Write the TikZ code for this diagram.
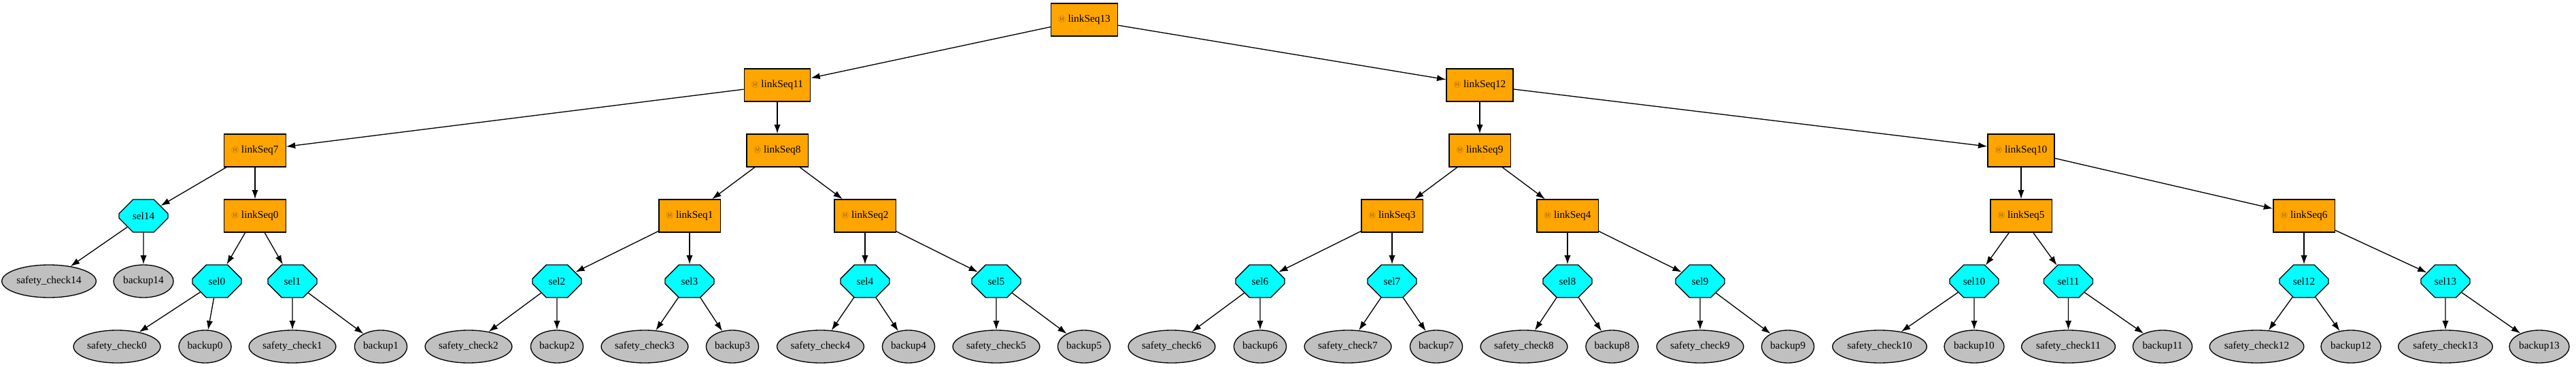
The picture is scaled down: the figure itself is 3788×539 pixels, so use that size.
\documentclass[tikz,border=0pt]{standalone}
\usepackage{fontspec}
\setmainfont{Liberation Serif}
\newfontfamily\msymfont{Noto Sans CJK JP}
\usetikzlibrary{shapes.geometric,shapes.misc,arrows.meta}

\definecolor{seqorange}{HTML}{FFA500}
\definecolor{selcyan}{HTML}{00FFFF}
\definecolor{leafgray}{HTML}{C0C0C0}
\definecolor{msymcolor}{HTML}{A0640A}

\newcommand{\mtag}{{\msymfont\fontsize{8}{8}\selectfont\textcolor{msymcolor}{Ⓜ}}}

\tikzset{   seqbox/.style={draw=black,rectangle,fill=seqorange,minimum height=36pt,inner xsep=8pt,line width=1pt,font=\fontsize{11.5}{13}\selectfont},
            selbox/.style={draw=black,chamfered rectangle,chamfered rectangle xsep=15.8pt,chamfered rectangle ysep=10.5pt,fill=selcyan,minimum width=54pt,minimum height=36pt,inner sep=1pt,line width=1pt,font=\fontsize{11.5}{13}\selectfont},
            leafnode/.style={draw=black,ellipse,fill=leafgray,minimum height=36pt,inner xsep=1pt,line width=1pt,font=\fontsize{11.5}{13}\selectfont},
            linkarrow/.style={-{Latex[length=10pt,width=7pt]},line width=1pt},
}

\begin{document}
\begin{tikzpicture}[x=0.75pt,y=-0.75pt]
    \useasboundingbox (0,0) rectangle (3788,539);

    \node[seqbox] (linkSeq13) at (1594.5,29) {\mtag{} linkSeq13}; % top sequence
    \node[seqbox] (linkSeq11) at (1143,125) {\mtag{} linkSeq11};
    \node[seqbox] (linkSeq12) at (2176,125) {\mtag{} linkSeq12};

    \node[seqbox] (linkSeq7) at (375,221) {\mtag{} linkSeq7};
    \node[seqbox] (linkSeq8) at (1143,221) {\mtag{} linkSeq8};
    \node[seqbox] (linkSeq9) at (2176,221) {\mtag{} linkSeq9};
    \node[seqbox] (linkSeq10) at (2972,221) {\mtag{} linkSeq10};

    \node[selbox] (sel14) at (211,317) {sel14};
    \node[seqbox] (linkSeq0) at (375,317) {\mtag{} linkSeq0};
    \node[seqbox] (linkSeq1) at (1014,317) {\mtag{} linkSeq1};
    \node[seqbox] (linkSeq2) at (1272,317) {\mtag{} linkSeq2};
    \node[seqbox] (linkSeq3) at (2047,317) {\mtag{} linkSeq3};
    \node[seqbox] (linkSeq4) at (2305,317) {\mtag{} linkSeq4};
    \node[seqbox] (linkSeq5) at (2972,317) {\mtag{} linkSeq5};
    \node[seqbox] (linkSeq6) at (3388,317) {\mtag{} linkSeq6};

    \node[leafnode] (safety_check14) at (72,413) {safety\_check14}; % selectors
    \node[leafnode] (backup14) at (211,413) {backup14};
    \node[selbox] (sel0) at (319,413) {sel0};
    \node[selbox] (sel1) at (430,413) {sel1};
    \node[selbox] (sel2) at (819,413) {sel2};
    \node[selbox] (sel3) at (1014,413) {sel3};
    \node[selbox] (sel4) at (1272,413) {sel4};
    \node[selbox] (sel5) at (1465,413) {sel5};
    \node[selbox] (sel6) at (1853,413) {sel6};
    \node[selbox] (sel7) at (2047,413) {sel7};
    \node[selbox] (sel8) at (2305,413) {sel8};
    \node[selbox] (sel9) at (2500,413) {sel9};
    \node[selbox] (sel10) at (2903,413) {sel10};
    \node[selbox] (sel11) at (3041.5,413) {sel11};
    \node[selbox] (sel12) at (3388,413) {sel12};
    \node[selbox] (sel13) at (3596,413) {sel13};

    \node[leafnode] (safety_check0) at (172,509) {safety\_check0}; % leaves
    \node[leafnode] (backup0) at (301.5,509) {backup0};
    \node[leafnode] (safety_check1) at (430,509) {safety\_check1};
    \node[leafnode] (backup1) at (560,509) {backup1};
    \node[leafnode] (safety_check2) at (689,509) {safety\_check2};
    \node[leafnode] (backup2) at (819,509) {backup2};
    \node[leafnode] (safety_check3) at (948,509) {safety\_check3};
    \node[leafnode] (backup3) at (1077,509) {backup3};
    \node[leafnode] (safety_check4) at (1206.5,509) {safety\_check4};
    \node[leafnode] (backup4) at (1336,509) {backup4};
    \node[leafnode] (safety_check5) at (1465,509) {safety\_check5};
    \node[leafnode] (backup5) at (1594,509) {backup5};
    \node[leafnode] (safety_check6) at (1723,509) {safety\_check6};
    \node[leafnode] (backup6) at (1853,509) {backup6};
    \node[leafnode] (safety_check7) at (1982,509) {safety\_check7};
    \node[leafnode] (backup7) at (2112,509) {backup7};
    \node[leafnode] (safety_check8) at (2241,509) {safety\_check8};
    \node[leafnode] (backup8) at (2370.5,509) {backup8};
    \node[leafnode] (safety_check9) at (2500,509) {safety\_check9};
    \node[leafnode] (backup9) at (2629,509) {backup9};
    \node[leafnode] (safety_check10) at (2764,509) {safety\_check10};
    \node[leafnode] (backup10) at (2903,509) {backup10};
    \node[leafnode] (safety_check11) at (3041.5,509) {safety\_check11};
    \node[leafnode] (backup11) at (3180,509) {backup11};
    \node[leafnode] (safety_check12) at (3318.5,509) {safety\_check12};
    \node[leafnode] (backup12) at (3457,509) {backup12};
    \node[leafnode] (safety_check13) at (3596,509) {safety\_check13};
    \node[leafnode] (backup13) at (3734,509) {backup13};

    \draw[linkarrow] (linkSeq13) -- (linkSeq11); % sequence edges
    \draw[linkarrow] (linkSeq13) -- (linkSeq12);
    \draw[linkarrow] (linkSeq11) -- (linkSeq7);
    \draw[linkarrow] (linkSeq11) -- (linkSeq8);
    \draw[linkarrow] (linkSeq12) -- (linkSeq9);
    \draw[linkarrow] (linkSeq12) -- (linkSeq10);
    \draw[linkarrow] (linkSeq7) -- (sel14);
    \draw[linkarrow] (linkSeq7) -- (linkSeq0);
    \draw[linkarrow] (linkSeq8) -- (linkSeq1);
    \draw[linkarrow] (linkSeq8) -- (linkSeq2);
    \draw[linkarrow] (linkSeq9) -- (linkSeq3);
    \draw[linkarrow] (linkSeq9) -- (linkSeq4);
    \draw[linkarrow] (linkSeq10) -- (linkSeq5);
    \draw[linkarrow] (linkSeq10) -- (linkSeq6);
    \draw[linkarrow] (linkSeq0) -- (sel0);
    \draw[linkarrow] (linkSeq0) -- (sel1);
    \draw[linkarrow] (linkSeq1) -- (sel2);
    \draw[linkarrow] (linkSeq1) -- (sel3);
    \draw[linkarrow] (linkSeq2) -- (sel4);
    \draw[linkarrow] (linkSeq2) -- (sel5);
    \draw[linkarrow] (linkSeq3) -- (sel6);
    \draw[linkarrow] (linkSeq3) -- (sel7);
    \draw[linkarrow] (linkSeq4) -- (sel8);
    \draw[linkarrow] (linkSeq4) -- (sel9);
    \draw[linkarrow] (linkSeq5) -- (sel10);
    \draw[linkarrow] (linkSeq5) -- (sel11);
    \draw[linkarrow] (linkSeq6) -- (sel12);
    \draw[linkarrow] (linkSeq6) -- (sel13);

    \draw[linkarrow] (sel14) -- (safety_check14); % selector edges
    \draw[linkarrow] (sel14) -- (backup14);
    \draw[linkarrow] (sel0) -- (safety_check0);
    \draw[linkarrow] (sel0) -- (backup0);
    \draw[linkarrow] (sel1) -- (safety_check1);
    \draw[linkarrow] (sel1) -- (backup1);
    \draw[linkarrow] (sel2) -- (safety_check2);
    \draw[linkarrow] (sel2) -- (backup2);
    \draw[linkarrow] (sel3) -- (safety_check3);
    \draw[linkarrow] (sel3) -- (backup3);
    \draw[linkarrow] (sel4) -- (safety_check4);
    \draw[linkarrow] (sel4) -- (backup4);
    \draw[linkarrow] (sel5) -- (safety_check5);
    \draw[linkarrow] (sel5) -- (backup5);
    \draw[linkarrow] (sel6) -- (safety_check6);
    \draw[linkarrow] (sel6) -- (backup6);
    \draw[linkarrow] (sel7) -- (safety_check7);
    \draw[linkarrow] (sel7) -- (backup7);
    \draw[linkarrow] (sel8) -- (safety_check8);
    \draw[linkarrow] (sel8) -- (backup8);
    \draw[linkarrow] (sel9) -- (safety_check9);
    \draw[linkarrow] (sel9) -- (backup9);
    \draw[linkarrow] (sel10) -- (safety_check10);
    \draw[linkarrow] (sel10) -- (backup10);
    \draw[linkarrow] (sel11) -- (safety_check11);
    \draw[linkarrow] (sel11) -- (backup11);
    \draw[linkarrow] (sel12) -- (safety_check12);
    \draw[linkarrow] (sel12) -- (backup12);
    \draw[linkarrow] (sel13) -- (safety_check13);
    \draw[linkarrow] (sel13) -- (backup13);
\end{tikzpicture}
\end{document}
